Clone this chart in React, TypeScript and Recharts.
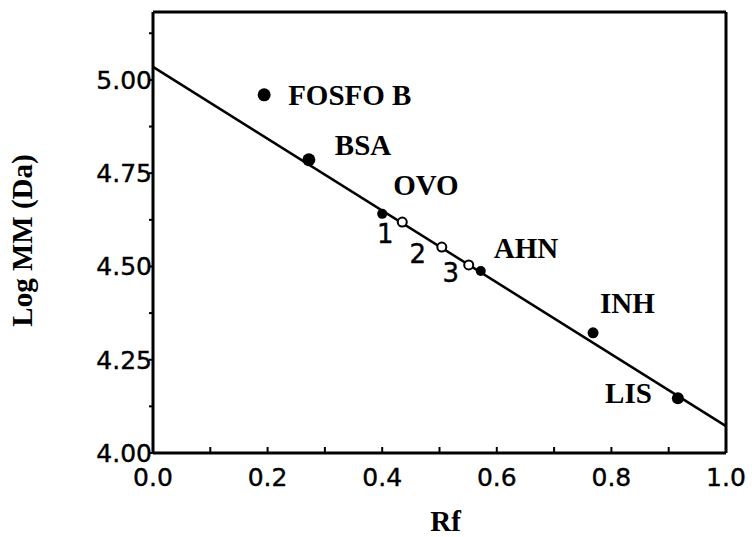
import React from 'react';
import {
  ScatterChart,
  Scatter,
  XAxis,
  YAxis,
  ReferenceLine,
} from 'recharts';

// Proteínas patrón (círculos llenos) y muestras (círculos abiertos)
const standardNames = ['FOSFO B', 'BSA', 'OVO', 'AHN', 'INH', 'LIS'];
const standardRf = [0.194, 0.272, 0.4, 0.572, 0.768, 0.916];
const standardLogMM = [4.96, 4.786, 4.641, 4.488, 4.322, 4.147];

const sampleNames = ['1', '2', '3'];
const sampleRf = [0.435, 0.504, 0.551];
const sampleLogMM = [4.619, 4.552, 4.504];

// recta de calibración
const fitStart = { x: 0, y: 5.035 };
const fitEnd = { x: 1, y: 4.072 };

const xTicks = [0, 0.1, 0.2, 0.3, 0.4, 0.5, 0.6, 0.7, 0.8, 0.9, 1.0];
const xMajor = [0, 0.2, 0.4, 0.6, 0.8, 1.0];
const yTicks = [4, 4.125, 4.25, 4.375, 4.5, 4.625, 4.75, 4.875, 5, 5.125];
const yMajor = [4, 4.25, 4.5, 4.75, 5];
const Y_MAX = 5.182;

const standards = standardNames.map((name, i) => ({ name, x: standardRf[i], y: standardLogMM[i] }));
const samples = sampleNames.map((name, i) => ({ name, x: sampleRf[i], y: sampleLogMM[i] }));

// label placement (px relative to the point) and dot sizes
const labelStyle: Record<string, { dx: number; dy: number; anchor: string; r: number }> = {
  'FOSFO B': { dx: 24, dy: 0, anchor: 'start', r: 6.5 },
  BSA: { dx: 26, dy: -15, anchor: 'start', r: 6.5 },
  OVO: { dx: 11, dy: -29, anchor: 'start', r: 5 },
  AHN: { dx: 13, dy: -23, anchor: 'start', r: 5 },
  INH: { dx: 7, dy: -30, anchor: 'start', r: 5.5 },
  LIS: { dx: -26, dy: -5, anchor: 'end', r: 6 },
  '1': { dx: -17, dy: 11, anchor: 'middle', r: 4.5 },
  '2': { dx: -24, dy: 6, anchor: 'middle', r: 4.5 },
  '3': { dx: -18, dy: 7, anchor: 'middle', r: 4.5 },
};

const serif = '"Liberation Serif", "Times New Roman", serif';
const sans = '"DejaVu Sans", Geneva, sans-serif';

const isMajor = (list: number[], v: number) => list.some((m) => Math.abs(m - v) < 1e-6);

function XTick(props: any) {
  const { x, y, payload } = props;
  const major = isMajor(xMajor, payload.value);
  return (
    <g>
      <line x1={x} y1={y} x2={x} y2={y - 6} stroke="#000" strokeWidth={2} />
      {major && (
        <text x={x} y={y + 33} textAnchor="middle" fontFamily={sans} fontSize={25} fill="#000" stroke="#000" strokeWidth={0.4}>
          {payload.value.toFixed(1)}
        </text>
      )}
    </g>
  );
}

function YTick(props: any) {
  const { x, y, payload } = props;
  const major = isMajor(yMajor, payload.value);
  return (
    <g>
      <line x1={x} y1={y} x2={x - 4} y2={y} stroke="#000" strokeWidth={2} />
      {major && (
        <text x={x - 1} y={y + 9} textAnchor="end" fontFamily={sans} fontSize={25} fill="#000" stroke="#000" strokeWidth={0.4}>
          {payload.value.toFixed(2)}
        </text>
      )}
    </g>
  );
}

function FilledDot(props: any) {
  const { cx, cy, payload } = props;
  const s = labelStyle[payload.name];
  return (
    <g>
      <circle cx={cx} cy={cy} r={s.r} fill="#000" />
      <text
        x={cx + s.dx}
        y={cy + s.dy + 10}
        textAnchor={s.anchor}
        fontFamily={serif}
        fontWeight="bold"
        fontSize={29}
        fill="#000"
      >
        {payload.name}
      </text>
    </g>
  );
}

function OpenDot(props: any) {
  const { cx, cy, payload } = props;
  const s = labelStyle[payload.name];
  return (
    <g>
      <circle cx={cx} cy={cy} r={s.r} fill="#fff" stroke="#000" strokeWidth={2} />
      <text
        x={cx + s.dx}
        y={cy + s.dy + 10}
        textAnchor={s.anchor}
        fontFamily={sans}
        fontSize={26}
        fill="#000"
        stroke="#000"
        strokeWidth={0.4}
      >
        {payload.name}
      </text>
    </g>
  );
}

export default function App() {
  return (
    <div style={{ position: 'absolute', left: 0, top: 0, width: 752, height: 537, background: '#fff' }}>
      <ScatterChart width={752} height={537} margin={{ top: 12, right: 26, bottom: 0, left: 0 }}>
        <XAxis
          type="number"
          dataKey="x"
          domain={[0, 1]}
          ticks={xTicks}
          interval={0}
          height={84}
          tickSize={0}
          tickMargin={0}
          tick={<XTick />}
          axisLine={{ stroke: '#000', strokeWidth: 3 }}
          tickLine={false}
          label={{
            content: ({ viewBox }: any) => (
              <text
                x={viewBox.x + viewBox.width / 2 + 6}
                y={viewBox.y + 78}
                textAnchor="middle"
                fontFamily={serif}
                fontWeight="bold"
                fontSize={29}
                fill="#000"
              >
                Rf
              </text>
            ),
          }}
        />
        <YAxis
          type="number"
          dataKey="y"
          domain={[4, Y_MAX]}
          ticks={yTicks}
          interval={0}
          width={153}
          tickSize={0}
          tickMargin={0}
          tick={<YTick />}
          axisLine={{ stroke: '#000', strokeWidth: 3 }}
          tickLine={false}
          label={{
            content: ({ viewBox }: any) => {
              const cx = viewBox.x + 32;
              const cy = viewBox.y + viewBox.height / 2 + 8;
              return (
                <text
                  x={cx}
                  y={cy}
                  transform={`rotate(-90 ${cx} ${cy})`}
                  textAnchor="middle"
                  fontFamily={serif}
                  fontWeight="bold"
                  fontSize={29}
                  fill="#000"
                >
                  Log MM (Da)
                </text>
              );
            },
          }}
        />
        {/* frame: top and right edges */}
        <ReferenceLine y={Y_MAX} stroke="#000" strokeWidth={3} />
        <ReferenceLine x={1} stroke="#000" strokeWidth={3} />

        <ReferenceLine segment={[fitStart, fitEnd]} stroke="#000" strokeWidth={2.5} />

        <Scatter data={standards} shape={<FilledDot />} isAnimationActive={false} />
        <Scatter data={samples} shape={<OpenDot />} isAnimationActive={false} />
      </ScatterChart>
    </div>
  );
}
